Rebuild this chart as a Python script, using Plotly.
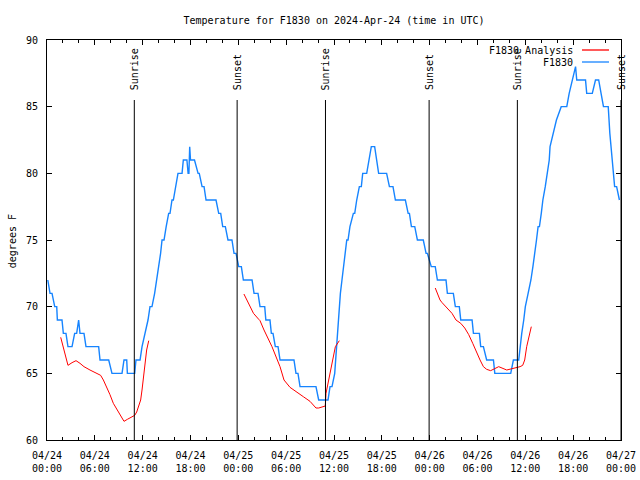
import pandas as pd
import plotly.graph_objects as go

BASE = pd.Timestamp("2024-04-24 00:00")

# Observed F1830 temperatures: hours since 2024-04-24 00:00 UTC, degrees F
obs_hours = [0.1, 0.38, 0.63, 0.97, 1.22, 1.3, 1.88, 2.05, 2.38, 2.63, 3.14, 3.47, 3.72, 3.97, 4.14, 4.64,
             4.89, 6.48, 6.65, 7.74, 8.15, 9.41, 9.66, 10.0, 10.08, 11.0, 11.16, 11.67, 11.92, 12.34, 12.67,
             12.92, 13.17, 13.5, 13.75, 14.05, 14.25, 14.43, 14.68, 14.95, 15.26, 15.43, 15.68, 15.85, 16.1,
             16.43, 16.94, 17.1, 17.55, 17.7, 17.8, 17.9, 18.0, 18.5, 18.95, 19.1, 19.45, 19.7, 19.95, 21.2,
             21.54, 21.79, 22.04, 22.37, 22.7, 23.2, 23.46, 23.71, 24.05, 24.38, 24.63, 25.72, 25.97, 26.47,
             26.72, 27.31, 27.45, 27.97, 28.14, 28.35, 28.64, 28.98, 29.23, 30.98, 31.23, 31.48, 31.74, 33.74,
             34.08, 35.25, 35.5, 35.75, 36.09, 36.2, 36.34, 36.45, 36.55, 36.62, 36.8, 37.0, 37.2, 37.4, 37.6,
             37.76, 38.0, 38.43, 38.6, 38.85, 39.18, 39.43, 39.6, 40.1, 40.43, 40.68, 41.1, 41.35, 41.6, 42.6,
             42.95, 43.4, 43.7, 44.95, 45.3, 45.46, 45.71, 46.13, 46.46, 47.2, 47.55, 47.71, 48.2, 48.7, 48.97,
             50.05, 50.22, 50.97, 51.22, 51.72, 51.9, 53.32, 53.49, 54.24, 54.4, 54.74, 55.15, 56.0, 56.17,
             58.17, 58.5, 59.17, 59.34, 59.55, 59.8, 60.0, 60.35, 60.7, 60.95, 61.2, 61.4, 61.6, 61.77, 62.0,
             62.2, 62.5, 62.75, 63.0, 63.1, 63.5, 63.9, 64.5, 65.2, 65.5, 65.9, 66.3, 66.45, 67.55, 67.7, 68.4,
             68.8, 69.2, 69.5, 69.8, 70.4, 70.6, 70.9, 71.05, 71.2, 71.45, 71.8]
obs_temps = [72, 71, 71, 70, 70, 69, 69, 68, 68, 67, 67, 68, 68, 69, 68, 68,
             67, 67, 66, 66, 65, 65, 66, 66, 65, 65, 66, 66, 67, 68, 69,
             70, 70, 71, 72, 73, 74, 75, 75, 76, 77, 77, 78, 78, 79,
             80, 80, 81, 81, 80, 80, 82, 81, 81, 80, 80, 79, 79, 78, 78,
             77, 77, 76, 76, 75, 75, 74, 74, 73, 73, 72, 72, 71, 71,
             70, 70, 69, 69, 68, 68, 67, 67, 66, 66, 65, 65, 64, 64,
             63, 63, 64, 64, 65, 66, 67, 68, 69, 70, 71, 72, 73, 74, 75,
             75, 76, 77, 77, 78, 79, 79, 80, 80, 81, 82, 82, 81, 80, 80,
             79, 79, 78, 78, 77, 77, 76, 76, 75, 75, 74, 74, 73, 73, 72,
             72, 71, 71, 70, 70, 69, 69, 68, 68, 67, 67, 66, 66, 65,
             65, 66, 66, 67, 68, 69, 70, 71, 72, 73, 74, 75, 76, 76, 77,
             78, 79, 80, 81, 82, 83, 84, 85, 85, 86, 87, 88, 87, 87, 86, 86,
             87, 87, 86, 85, 85, 83, 81, 80, 79, 79, 78]

# F1830 Analysis (three daily segments)
ana1_hours = [1.72, 2.05, 2.38, 2.63, 3.14, 3.64, 4.14, 4.64, 5.39, 6.06, 6.73, 7.07, 7.49, 7.9, 8.32, 8.82,
              9.41, 9.66, 10.08, 10.66, 11.0, 11.25, 11.5, 11.75, 11.92, 12.09, 12.34, 12.5, 12.76]
ana1_temps = [67.7, 67.0, 66.25, 65.6, 65.8, 65.95, 65.75, 65.5, 65.25, 65.05, 64.85, 64.5, 64.0, 63.4, 62.75,
              62.25, 61.6, 61.4, 61.55, 61.75, 61.85, 62.1, 62.5, 63.0, 63.75, 64.75, 66.0, 66.75, 67.45]
ana2_hours = [24.7, 25.05, 25.47, 25.9, 26.56, 26.72, 27.22, 28.22, 29.23, 29.73, 30.48, 31.4, 32.15, 32.99,
              33.74, 34.08, 34.66, 34.91, 35.0, 35.34, 35.67, 36.17, 36.67]
ana2_temps = [70.95, 70.5, 70.0, 69.5, 69.05, 68.95, 68.25, 67.0, 65.5, 64.5, 63.95, 63.6, 63.25, 62.9,
              62.4, 62.4, 62.5, 62.55, 63.5, 64.5, 65.75, 67.0, 67.45]
ana3_hours = [48.7, 49.3, 49.56, 50.14, 50.8, 51.3, 51.9, 52.4, 52.9, 53.4, 53.9, 54.32, 54.74, 55.15, 55.65,
              56.66, 57.67, 58.83, 59.34, 59.67, 59.92, 60.17, 60.42, 60.75]
ana3_temps = [71.4, 70.5, 70.3, 69.9, 69.5, 69.0, 68.75, 68.4, 67.9, 67.25, 66.5, 66.0, 65.5, 65.3, 65.2,
              65.5, 65.25, 65.4, 65.5, 65.6, 66.0, 67.0, 67.75, 68.5]

# Sun events (hours since start)
sun_hours = [10.95, 23.85, 34.93, 47.93, 59.0, 72.0]
sun_labels = ["Sunrise", "Sunset", "Sunrise", "Sunset", "Sunrise", "Sunset"]

# X tick labels
tick_hours = [0, 6, 12, 18, 24, 30, 36, 42, 48, 54, 60, 66, 72]
tick_text = ["04/24<br>00:00", "04/24<br>06:00", "04/24<br>12:00", "04/24<br>18:00",
             "04/25<br>00:00", "04/25<br>06:00", "04/25<br>12:00", "04/25<br>18:00",
             "04/26<br>00:00", "04/26<br>06:00", "04/26<br>12:00", "04/26<br>18:00",
             "04/27<br>00:00"]


def to_time(hours):
    return [BASE + pd.Timedelta(hours=h) for h in hours]


FONT = "DejaVu Sans Mono"
BLUE = "#1684ff"
RED = "#ff0000"

ana_x = to_time(ana1_hours) + [None] + to_time(ana2_hours) + [None] + to_time(ana3_hours)
ana_y = ana1_temps + [None] + ana2_temps + [None] + ana3_temps

fig = go.Figure()
fig.add_trace(go.Scatter(x=to_time(obs_hours), y=obs_temps, mode="lines", name="F1830",
                         line=dict(color=BLUE, width=1.4)))
fig.add_trace(go.Scatter(x=ana_x, y=ana_y, mode="lines", name="F1830 Analysis",
                         line=dict(color=RED, width=1), connectgaps=False))

shapes = []
annotations = []
for h, lab in zip(sun_hours, sun_labels):
    t = BASE + pd.Timedelta(hours=h)
    shapes.append(dict(type="line", xref="x", yref="paper", x0=t, x1=t, y0=0, y1=0.85,
                       line=dict(color="black", width=1)))
    annotations.append(dict(x=t, y=0.87, xref="x", yref="paper", text=lab, showarrow=False,
                            textangle=-90, xanchor="center", yanchor="bottom",
                            font=dict(family=FONT, size=10, color="black")))

# legend drawn gnuplot-style: text then sample on the right
W = 574.0
H = 400.0
leg_rows = [("F1830 Analysis", RED, 50), ("F1830", BLUE, 62)]
for txt, col, ypix in leg_rows:
    yp = (440 - ypix) / H
    annotations.append(dict(x=(575 - 47) / W, y=yp, xref="paper", yref="paper", text=txt,
                            showarrow=False, xanchor="right", yanchor="middle",
                            font=dict(family=FONT, size=10, color="black")))
    shapes.append(dict(type="line", xref="paper", yref="paper", x0=(582 - 47) / W, x1=(609 - 47) / W,
                       y0=yp, y1=yp, line=dict(color=col, width=1.3)))

annotations.append(dict(x=(12 - 47) / W, y=0.497, xref="paper", yref="paper", text="degrees F",
                        showarrow=False, textangle=-90, xanchor="center", yanchor="middle",
                        font=dict(family=FONT, size=10, color="black")))

fig.update_layout(
    width=640, height=480,
    margin=dict(l=47, r=19, t=40, b=40, autoexpand=False),
    paper_bgcolor="white", plot_bgcolor="white",
    showlegend=False,
    title=dict(text="Temperature for F1830 on 2024-Apr-24 (time in UTC)", x=0.5, xref="paper",
               xanchor="center", y=1 - 20 / 480, yref="container", yanchor="middle",
               font=dict(family=FONT, size=10, color="black")),
    font=dict(family=FONT, size=10, color="black"),
    shapes=shapes, annotations=annotations,
    xaxis=dict(range=[BASE, BASE + pd.Timedelta(hours=72)], tickvals=to_time(tick_hours), ticktext=tick_text,
               automargin=False,
               showgrid=False, zeroline=False, showline=True, linecolor="black", linewidth=1,
               mirror="ticks", ticks="inside", ticklen=5, tickcolor="black", tickwidth=1,
               ticklabelstandoff=6,
               minor=dict(dtick=2 * 3600 * 1000, tick0=BASE, ticks="inside", ticklen=3,
                          tickcolor="black", showgrid=False),
               tickfont=dict(family=FONT, size=10, color="black")),
    yaxis=dict(range=[60, 90], tickvals=[60, 65, 70, 75, 80, 85, 90],
               automargin=False,
               showgrid=False, zeroline=False, showline=True, linecolor="black", linewidth=1,
               mirror="ticks", ticks="inside", ticklen=5, tickcolor="black", tickwidth=1,
               ticklabelstandoff=6,
               tickfont=dict(family=FONT, size=10, color="black")),
)

fig.write_html("out.html")
